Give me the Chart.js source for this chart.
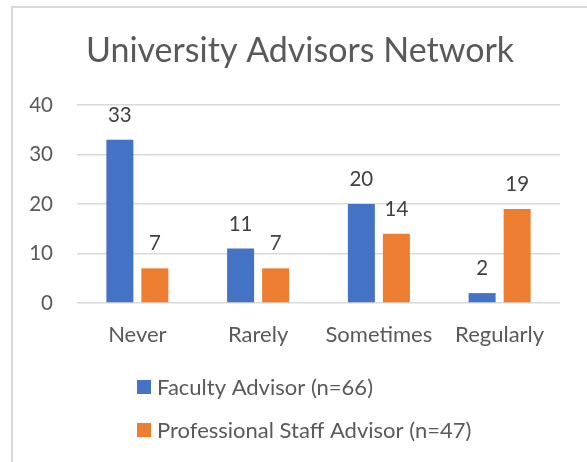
<!DOCTYPE html>
<html>
<head>
<meta charset="utf-8">
<script src="https://cdn.jsdelivr.net/npm/chart.js@4"></script>
<style>
    html, body { margin: 0; padding: 0; background: #ffffff; }
    body { width: 587px; height: 462px; overflow: hidden; position: relative; }
    .frame {
        position: absolute;
        left: 11px;
        top: 6px;
        width: 600px;
        height: 480px;
        border: 2px solid #d9d9d9;
        box-sizing: border-box;
    }
    .chart-box {
        position: absolute;
        left: 13px;
        top: 8px;
        width: 574px;
        height: 454px;
    }
</style>
</head>
<body>
<div class="frame"></div>
<div class="chart-box"><canvas id="advisorsChart"></canvas></div>
<script>
// Chart data
const chartTitle = 'University Advisors Network';
const categories = ['Never', 'Rarely', 'Sometimes', 'Regularly'];
const seriesNames = ['Faculty Advisor (n=66)', 'Professional Staff Advisor (n=47)'];
const facultyValues = [33, 11, 20, 2];
const staffValues = [7, 7, 14, 19];
const yTicks = [0, 10, 20, 30, 40];

const FONT = "Lato, 'Open Sans', sans-serif";
const TEXT_COLOR = '#595959';
const NUM_SIZE = 20.5;
const LABEL_SIZE = 22;

// Title, value labels and a stacked legend drawn on the canvas
const decorPlugin = {
    id: 'decor',
    afterDatasetsDraw(chart) {
        const ctx = chart.ctx;
        ctx.save();

        // value labels above each bar
        ctx.font = NUM_SIZE + 'px ' + FONT;
        ctx.fillStyle = '#404040';
        ctx.textAlign = 'center';
        ctx.textBaseline = 'alphabetic';
        chart.data.datasets.forEach((ds, i) => {
            chart.getDatasetMeta(i).data.forEach((bar, j) => {
                ctx.fillText(String(ds.data[j]), bar.x, bar.y - 18);
            });
        });

        // title
        ctx.font = '34px ' + FONT;
        ctx.fillStyle = TEXT_COLOR;
        ctx.textBaseline = 'middle';
        ctx.fillText(chartTitle, chart.width / 2, 43);

        // legend, one item per line
        ctx.font = LABEL_SIZE + 'px ' + FONT;
        ctx.textAlign = 'left';
        chart.data.datasets.forEach((ds, i) => {
            const y = 379 + i * 43;
            ctx.fillStyle = ds.backgroundColor;
            ctx.fillRect(124, y - 7, 14, 14);
            ctx.fillStyle = TEXT_COLOR;
            ctx.fillText(ds.label, 144, y + 1);
        });

        ctx.restore();
    }
};

new Chart(document.getElementById('advisorsChart'), {
    type: 'bar',
    data: {
        labels: categories,
        datasets: [
            {
                label: seriesNames[0],
                data: facultyValues,
                backgroundColor: '#4472C4'
            },
            {
                label: seriesNames[1],
                data: staffValues,
                backgroundColor: '#ED7D31'
            }
        ]
    },
    options: {
        responsive: true,
        maintainAspectRatio: false,
        animation: false,
        categoryPercentage: 0.58,
        barPercentage: 0.771,
        layout: {
            padding: { left: 0, right: 27, top: 97, bottom: 109 }
        },
        scales: {
            x: {
                grid: { display: false, drawTicks: false },
                border: { display: false },
                ticks: {
                    color: TEXT_COLOR,
                    padding: 19,
                    font: { family: FONT, size: LABEL_SIZE }
                },
                afterFit(scale) {
                    scale.height = 50;
                }
            },
            y: {
                min: 0,
                max: 40,
                afterBuildTicks(scale) {
                    scale.ticks = yTicks.map(v => ({ value: v }));
                },
                grid: {
                    color: '#d9d9d9',
                    lineWidth: 1.5,
                    drawTicks: false
                },
                border: { display: false },
                ticks: {
                    color: TEXT_COLOR,
                    padding: 24,
                    font: { family: FONT, size: NUM_SIZE }
                },
                afterFit(scale) {
                    scale.width = 64;
                }
            }
        },
        plugins: {
            legend: { display: false },
            title: { display: false },
            tooltip: { enabled: false }
        }
    },
    plugins: [decorPlugin]
});
</script>
</body>
</html>
